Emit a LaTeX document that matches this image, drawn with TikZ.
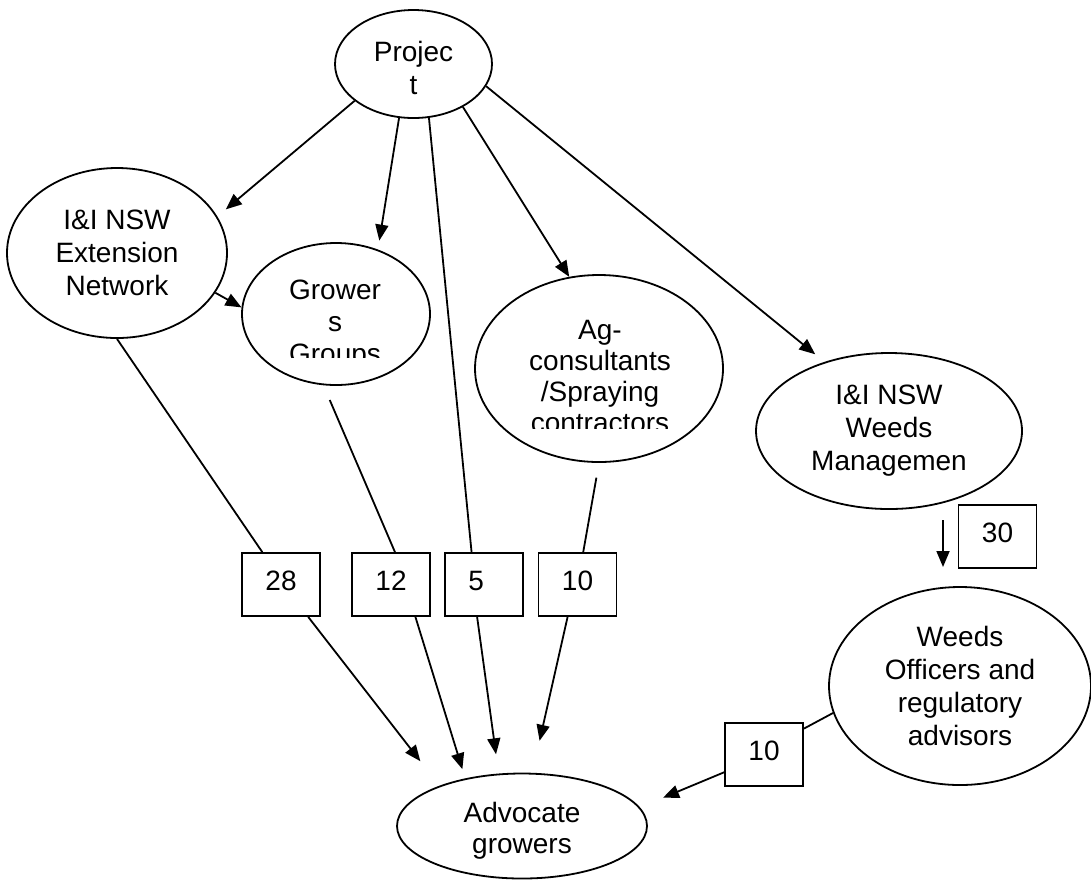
\documentclass[tikz,border=0pt]{standalone}
\usepackage{fontspec}
\setmainfont{Liberation Sans}
\usetikzlibrary{arrows.meta,shapes.geometric}

\begin{document}
\begin{tikzpicture}[
    x=0.5pt, y=-0.5pt,
    bubble/.style={draw, ellipse, line width=0.9pt, inner sep=0pt, align=center, font=\fontsize{14}{16.5}\selectfont},
    numbox/.style={draw, rectangle, line width=0.9pt, minimum width=39pt, minimum height=31.5pt, inner sep=0pt, text height=10pt, text depth=4pt, font=\fontsize{14}{16.5}\selectfont},
    txt/.style={align=center, inner sep=0pt, anchor=north, font=\fontsize{14}{16}\selectfont},
    arr/.style={-{Triangle[length=8pt,width=6.5pt]}, line width=0.9pt},
    link/.style={line width=0.9pt}
]
  \useasboundingbox (0,0) rectangle (1091,880);

  % Project at the top
  \node[bubble, minimum width=78.5pt, minimum height=54pt, text height=31pt] (proj) at (413.5,64) {Projec\\t};

  % bodies it reaches
  \node[bubble, minimum width=110pt, minimum height=85pt] (ext) at (117,253) {I\&I NSW\\Extension\\Network};
  \node[bubble, minimum width=94pt, minimum height=71pt] (grow) at (336,314) {};
  \node[bubble, minimum width=124pt, minimum height=93.5pt] (agc) at (599,368.5) {};
  \node[bubble, minimum width=133pt, minimum height=78pt] (wm) at (889,431) {I\&I NSW\\Weeds\\Managemen};
  \node[bubble, minimum width=131pt, minimum height=99pt] (wo) at (960,686) {Weeds\\Officers and\\regulatory\\advisors};
  \node[bubble, minimum width=125pt, minimum height=52.5pt] (adv) at (522,826) {};

  % texts cut off at the bottom
  \begin{scope}
    \clip (230,240) rectangle (440,357);
    \node[txt] (growtxt) at (335,279.5) {Grower\\s\\Groups};
  \end{scope}
  \begin{scope}
    \clip (470,270) rectangle (730,428);
    \node[txt, font=\fontsize{14}{15.5}\selectfont] (agctxt) at (600,319.5) {Ag-\\consultants\\/Spraying\\contractors};
  \end{scope}
  \begin{scope}
    \clip (390,770) rectangle (660,858);
    \node[txt, font=\fontsize{14}{15.5}\selectfont] (advtxt) at (522,801.5) {Advocate\\growers};
  \end{scope}

  % numbers
  \node[numbox] (b28) at (281,584.5) {28};
  \node[numbox] (b12) at (391,584.5) {12};
  \node[numbox] (b5) at (484,584.5) {5\phantom{0}};
  \node[numbox] (b10) at (577.5,584.5) {10};
  \node[numbox] (b30) at (997.5,536.5) {30};
  \node[numbox] (b10w) at (764,754.5) {10};

  \coordinate (wmout) at (943,520);
  \coordinate (woin) at (943,567);

  % Arrows
  \draw[arr, shorten >=5.5pt] (proj.212) -- (ext.20);
  \draw[arr, shorten >=4.5pt] (proj.255) -- (grow.57);
  \draw[link] (proj.286) -- (b5.111);
  \draw[arr] (proj.319) -- (agc.108);
  \draw[arr, shorten >=6pt] (proj.343) -- (wm.133);
  \draw[arr] (ext.338) -- (grow.176);
  \draw[link] (ext.270) -- (b28.120);
  \draw[arr, shorten >=15.5pt] (b28.310) -- (adv.154);
  \draw[link, shorten <=8pt] (grow.260) -- (b12.83);
  \draw[arr, shorten >=4.8pt] (b12.307) -- (adv.140);
  \draw[arr, shorten >=9.7pt] (b5.258) -- (adv.114);
  \draw[link, shorten <=7.5pt] (agc.270) -- (b10.80);
  \draw[arr, shorten >=16.4pt] (b10.253) -- (adv.79);
  \draw[arr] (wmout) -- (woin);
  \draw[link] (wo.192) -- (b10w.33);
  \draw[arr, shorten >=12.5pt] (b10w.204) -- (adv.9);
\end{tikzpicture}
\end{document}
